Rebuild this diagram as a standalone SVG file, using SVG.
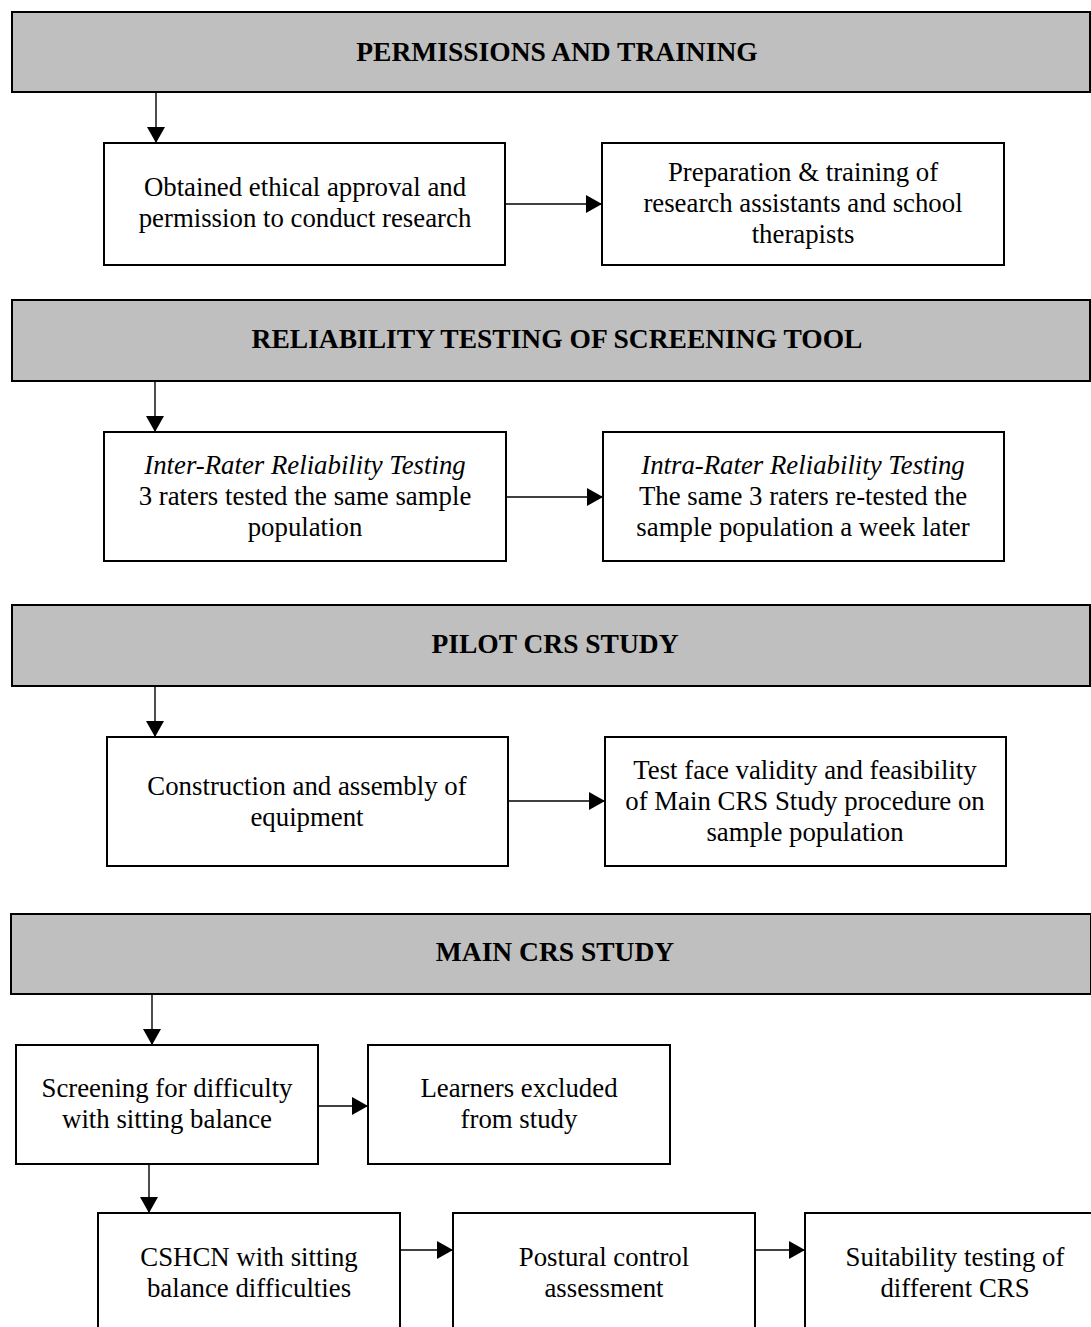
<svg xmlns="http://www.w3.org/2000/svg" width="1091" height="1327" viewBox="0 0 1091 1327">
  <style>
    .hdr { fill: #bfbfbf; stroke: #000; stroke-width: 2; }
    .box { fill: #fff; stroke: #000; stroke-width: 2; }
    .ht { font-family: "Liberation Serif", serif; font-weight: bold; font-size: 27.5px; fill: #000; text-anchor: middle; }
    .bt { font-family: "Liberation Serif", serif; font-size: 26.8px; fill: #000; text-anchor: middle; }
    .it { font-style: italic; }
    .conn { stroke: #000; stroke-width: 1.4; fill: none; marker-end: url(#arrow); }
  </style>
  <defs>
    <marker id="arrow" markerUnits="userSpaceOnUse" markerWidth="16" markerHeight="18" refX="16" refY="9" orient="auto">
      <path d="M0,0 L16,9 L0,18 z" fill="#000"/>
    </marker>
  </defs>

  <rect width="1091" height="1327" fill="#fff"/>

  <!-- Phase 1 -->
  <g id="h-permissions">
    <rect class="hdr" x="12" y="12" width="1078" height="80"/>
    <text class="ht" x="557" y="61">PERMISSIONS AND TRAINING</text>
  </g>
  <g id="n-ethics">
    <rect class="box" x="104" y="143" width="401" height="122"/>
    <text class="bt" x="305" y="196">Obtained ethical approval and</text>
    <text class="bt" x="305" y="227">permission to conduct research</text>
  </g>
  <g id="n-training">
    <rect class="box" x="602" y="143" width="402" height="122"/>
    <text class="bt" x="803" y="181">Preparation &amp; training of</text>
    <text class="bt" x="803" y="212">research assistants and school</text>
    <text class="bt" x="803" y="243">therapists</text>
  </g>

  <!-- Phase 2 -->
  <g id="h-reliability">
    <rect class="hdr" x="12" y="300" width="1078" height="81"/>
    <text class="ht" x="557" y="348">RELIABILITY TESTING OF SCREENING TOOL</text>
  </g>
  <g id="n-inter">
    <rect class="box" x="104" y="432" width="402" height="129"/>
    <text class="bt it" x="305" y="474">Inter-Rater Reliability Testing</text>
    <text class="bt" x="305" y="505">3 raters tested the same sample</text>
    <text class="bt" x="305" y="536">population</text>
  </g>
  <g id="n-intra">
    <rect class="box" x="603" y="432" width="401" height="129"/>
    <text class="bt it" x="803" y="474">Intra-Rater Reliability Testing</text>
    <text class="bt" x="803" y="505">The same 3 raters re-tested the</text>
    <text class="bt" x="803" y="536">sample population a week later</text>
  </g>

  <!-- Phase 3 -->
  <g id="h-pilot">
    <rect class="hdr" x="12" y="605" width="1078" height="81"/>
    <text class="ht" x="555" y="653">PILOT CRS STUDY</text>
  </g>
  <g id="n-construction">
    <rect class="box" x="107" y="737" width="401" height="129"/>
    <text class="bt" x="307" y="795">Construction and assembly of</text>
    <text class="bt" x="307" y="826">equipment</text>
  </g>
  <g id="n-face-validity">
    <rect class="box" x="605" y="737" width="401" height="129"/>
    <text class="bt" x="805" y="779">Test face validity and feasibility</text>
    <text class="bt" x="805" y="810">of Main CRS Study procedure on</text>
    <text class="bt" x="805" y="841">sample population</text>
  </g>

  <!-- Phase 4 -->
  <g id="h-main">
    <rect class="hdr" x="11" y="914" width="1080" height="80"/>
    <text class="ht" x="555" y="961">MAIN CRS STUDY</text>
  </g>
  <g id="n-screening">
    <rect class="box" x="16" y="1045" width="302" height="119"/>
    <text class="bt" x="167" y="1097">Screening for difficulty</text>
    <text class="bt" x="167" y="1128">with sitting balance</text>
  </g>
  <g id="n-excluded">
    <rect class="box" x="368" y="1045" width="302" height="119"/>
    <text class="bt" x="519" y="1097">Learners excluded</text>
    <text class="bt" x="519" y="1128">from study</text>
  </g>
  <g id="n-cshcn">
    <rect class="box" x="98" y="1213" width="302" height="130"/>
    <text class="bt" x="249" y="1266">CSHCN with sitting</text>
    <text class="bt" x="249" y="1297">balance difficulties</text>
  </g>
  <g id="n-postural">
    <rect class="box" x="453" y="1213" width="302" height="130"/>
    <text class="bt" x="604" y="1266">Postural control</text>
    <text class="bt" x="604" y="1297">assessment</text>
  </g>
  <g id="n-suitability">
    <rect class="box" x="805" y="1213" width="302" height="130"/>
    <text class="bt" x="955" y="1266">Suitability testing of</text>
    <text class="bt" x="955" y="1297">different CRS</text>
  </g>

  <!-- Connectors -->
  <g id="connectors">
    <line class="conn" x1="156" y1="92" x2="156" y2="143"/>
    <line class="conn" x1="505" y1="204" x2="602" y2="204"/>
    <line class="conn" x1="155" y1="381" x2="155" y2="432"/>
    <line class="conn" x1="506" y1="497" x2="603" y2="497"/>
    <line class="conn" x1="155" y1="686" x2="155" y2="737"/>
    <line class="conn" x1="508" y1="801" x2="605" y2="801"/>
    <line class="conn" x1="152" y1="994" x2="152" y2="1045"/>
    <line class="conn" x1="318" y1="1106" x2="368" y2="1106"/>
    <line class="conn" x1="149" y1="1164" x2="149" y2="1213"/>
    <line class="conn" x1="400" y1="1250" x2="453" y2="1250"/>
    <line class="conn" x1="755" y1="1250" x2="805" y2="1250"/>
  </g>
</svg>
